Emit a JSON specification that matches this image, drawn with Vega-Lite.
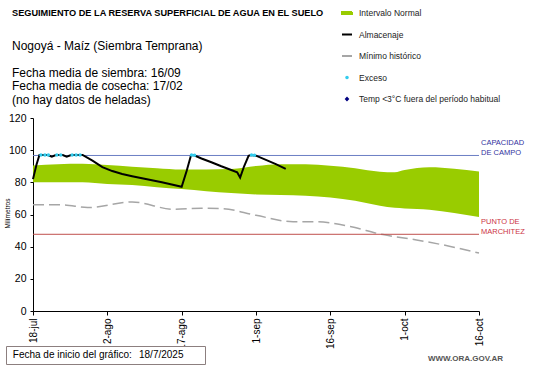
{
  "$schema": "https://vega.github.io/schema/vega-lite/v6.json",
  "width": 446,
  "height": 193,
  "autosize": {"type": "none"},
  "padding": {"left": 33, "top": 118, "right": 62, "bottom": 57},
  "background": "white",
  "config": {"view": {"stroke": null}, "font": "Liberation Sans"},
  "title": {
    "text": "SEGUIMIENTO DE LA RESERVA SUPERFICIAL DE AGUA EN EL SUELO",
    "subtitle": ["Nogoyá - Maíz (Siembra Temprana)", "\u200b", "Fecha media de siembra: 16/09", "Fecha media de cosecha: 17/02", "(no hay datos de heladas)"],
    "anchor": "start",
    "frame": "group",
    "dx": -21,
    "dy": 103.5,
    "offset": 0,
    "font": "Liberation Sans",
    "fontSize": 9.2,
    "fontWeight": "bold",
    "color": "#000000",
    "subtitleFont": "Liberation Sans",
    "subtitleFontSize": 12,
    "subtitleColor": "#000000",
    "subtitleLineHeight": 13.5,
    "subtitlePadding": 22.5
  },
  "datasets": {
    "band": [
      {"day": 0, "low": 80, "high": 90.5},
      {"day": 5, "low": 80, "high": 91.3},
      {"day": 10, "low": 80, "high": 91.5},
      {"day": 15, "low": 79, "high": 90.8},
      {"day": 20, "low": 78.3, "high": 89.7},
      {"day": 25, "low": 77, "high": 88.8},
      {"day": 30, "low": 75.8, "high": 88},
      {"day": 35, "low": 74.5, "high": 88},
      {"day": 40, "low": 73.3, "high": 88.3},
      {"day": 45, "low": 72.5, "high": 90.2},
      {"day": 50, "low": 72.2, "high": 91.3},
      {"day": 55, "low": 71.7, "high": 91.3},
      {"day": 60, "low": 70.5, "high": 90.3},
      {"day": 65, "low": 68.5, "high": 88.8},
      {"day": 70, "low": 65.5, "high": 86.6},
      {"day": 73, "low": 64.2, "high": 86.2},
      {"day": 75, "low": 63.8, "high": 87.6},
      {"day": 80, "low": 63, "high": 89.4},
      {"day": 85, "low": 61, "high": 88.5},
      {"day": 90, "low": 58.5, "high": 86.7}
    ],
    "minimo": [
      {"day": 0, "mm": 66},
      {"day": 6, "mm": 66},
      {"day": 11, "mm": 64.3},
      {"day": 20, "mm": 67.8},
      {"day": 28.5, "mm": 63.2},
      {"day": 34, "mm": 63.9},
      {"day": 38, "mm": 63.7},
      {"day": 45, "mm": 59.5},
      {"day": 52.5, "mm": 55.5},
      {"day": 57, "mm": 55.5},
      {"day": 60, "mm": 54.8},
      {"day": 64, "mm": 52.5},
      {"day": 70.6, "mm": 47.5},
      {"day": 77.4, "mm": 44.2},
      {"day": 84, "mm": 40.3},
      {"day": 90, "mm": 36}
    ],
    "alm": [
      {"day": 0, "mm": 82},
      {"day": 0.7, "mm": 91},
      {"day": 1.3, "mm": 97},
      {"day": 3, "mm": 97},
      {"day": 3.8, "mm": 96},
      {"day": 4.6, "mm": 97},
      {"day": 6, "mm": 97},
      {"day": 6.8, "mm": 96},
      {"day": 7.7, "mm": 97},
      {"day": 10, "mm": 97},
      {"day": 12, "mm": 93.5},
      {"day": 14, "mm": 89.5},
      {"day": 16, "mm": 87},
      {"day": 18, "mm": 85.2},
      {"day": 20, "mm": 83.8},
      {"day": 22, "mm": 82.5},
      {"day": 24, "mm": 81.3},
      {"day": 26, "mm": 80},
      {"day": 28, "mm": 78.7},
      {"day": 30, "mm": 77.2},
      {"day": 31, "mm": 87},
      {"day": 31.9, "mm": 97},
      {"day": 32.5, "mm": 96.8},
      {"day": 34, "mm": 94.8},
      {"day": 36, "mm": 92.5},
      {"day": 38, "mm": 90},
      {"day": 40, "mm": 87.7},
      {"day": 41.2, "mm": 86.3},
      {"day": 41.8, "mm": 83},
      {"day": 42.6, "mm": 90},
      {"day": 43.5, "mm": 96.5},
      {"day": 44, "mm": 97},
      {"day": 45, "mm": 96.6},
      {"day": 47, "mm": 94},
      {"day": 49, "mm": 91.3},
      {"day": 51, "mm": 88.4}
    ],
    "exceso": [
      {"day": 1.6, "mm": 97},
      {"day": 2.4, "mm": 97},
      {"day": 3.1, "mm": 97},
      {"day": 4.8, "mm": 97},
      {"day": 5.6, "mm": 97},
      {"day": 7.9, "mm": 97},
      {"day": 8.7, "mm": 97},
      {"day": 9.5, "mm": 97},
      {"day": 32, "mm": 97},
      {"day": 32.6, "mm": 96.8},
      {"day": 44.1, "mm": 97},
      {"day": 44.7, "mm": 96.8}
    ],
    "refs": [
      {"ref": "cc", "day": 90, "mm": 96.7, "label": ["CAPACIDAD", "DE  CAMPO"]},
      {"ref": "pm", "day": 90, "mm": 47.7, "label": ["PUNTO  DE", "MARCHITEZ"]}
    ]
  },
  "layer": [
    {
      "data": {"name": "band"},
      "mark": {"type": "area", "interpolate": "monotone"},
      "encoding": {
        "x": {
          "field": "day", "type": "quantitative", "title": "WWW.ORA.GOV.AR",
          "scale": {"domain": [0, 90], "nice": false, "zero": false},
          "axis": {
            "values": [0, 15, 30, 45, 60, 75, 90],
            "labelExpr": "['18-jul','2-ago','17-ago','1-sep','16-sep','1-oct','16-oct'][round(datum.value/15)]",
            "labelAngle": 270,
            "labelFont": "Liberation Sans",
            "labelFontSize": 10,
            "labelColor": "#000000",
            "labelPadding": 3,
            "labelOverlap": false,
            "labelFlush": false,
            "grid": false,
            "domainColor": "#000000",
            "tickColor": "#000000",
            "tickSize": 4,
            "titleFont": "Liberation Sans",
            "titleFontSize": 8,
            "titleFontWeight": "bold",
            "titleColor": "#555555",
            "titleX": 432,
            "titleY": 47,
            "titleAlign": "center",
            "titleBaseline": "middle",
            "titleAnchor": null
          }
        },
        "y": {
          "field": "low", "type": "quantitative", "title": "Milímetros",
          "scale": {"domain": [0, 120], "nice": false},
          "axis": {
            "values": [0, 20, 40, 60, 80, 100, 120],
            "tickCount": 7,
            "labelFont": "Liberation Sans",
            "labelFontSize": 10.5,
            "labelColor": "#000000",
            "labelPadding": 4,
            "labelOverlap": false,
            "labelFlush": false,
            "grid": false,
            "domainColor": "#000000",
            "tickColor": "#000000",
            "tickSize": 3,
            "titleFont": "Liberation Sans",
            "titleFontSize": 6.5,
            "titleFontWeight": "normal",
            "titleColor": "#000000",
            "titleX": -26,
            "titleY": 95,
            "titleAlign": "center",
            "titleBaseline": "middle",
            "titleAngle": 270
          }
        },
        "y2": {"field": "high"},
        "color": {
          "datum": "Intervalo Normal",
          "scale": {
            "domain": ["Intervalo Normal", "Almacenaje", "Mínimo histórico", "Exceso", "Temp <3°C fuera del período habitual"],
            "range": ["#99CC00", "#000000", "#A6A6A6", "#33CCEE", "#000080"]
          },
          "legend": {
            "orient": "none",
            "legendX": 303,
            "legendY": -116,
            "title": null,
            "padding": 0,
            "symbolSize": 400,
            "symbolStrokeWidth": 2,
            "rowPadding": 5.5,
            "labelOffset": 1,
            "labelFont": "Liberation Sans",
            "labelFontSize": 8.5,
            "labelColor": "#222222",
            "labelLimit": 300,
            "encode": {
              "symbols": {
                "update": {
                  "shape": {"signal": "datum.value === 'Intervalo Normal' ? 'M-0.5,-0.09H0.5V0.09H-0.5Z' : (datum.value === 'Almacenaje' || datum.value === 'Mínimo histórico') ? 'M-0.5,0H0.5' : (datum.value === 'Exceso' ? 'M-0.075,0L-0.053,-0.053L0,-0.075L0.053,-0.053L0.075,0L0.053,0.053L0,0.075L-0.053,0.053Z' : 'M0,-0.11L0.1,0L0,0.11L-0.1,0Z')"},
                  "fill": {"signal": "datum.value === 'Intervalo Normal' ? '#99CC00' : datum.value === 'Exceso' ? '#33CCEE' : (datum.value === 'Almacenaje' || datum.value === 'Mínimo histórico') ? 'transparent' : '#000080'"},
                  "stroke": {"signal": "datum.value === 'Almacenaje' ? '#000000' : datum.value === 'Mínimo histórico' ? '#A6A6A6' : 'transparent'"},
                  "strokeDash": {"signal": "datum.value === 'Mínimo histórico' ? [11, 3] : [1, 0]"},
                  "opacity": {"value": 1}
                }
              }
            }
          }
        }
      }
    },
    {
      "data": {"name": "minimo"},
      "mark": {"type": "line", "interpolate": "monotone", "strokeDash": [11, 5], "strokeWidth": 1.5},
      "encoding": {
        "x": {"field": "day", "type": "quantitative", "title": "WWW.ORA.GOV.AR"},
        "y": {"field": "mm", "type": "quantitative", "title": "Milímetros"},
        "color": {"datum": "Mínimo histórico"}
      }
    },
    {
      "data": {"name": "refs"},
      "transform": [{"filter": "datum.ref === 'cc'"}],
      "mark": {"type": "rule", "color": "#6B7FC4", "strokeWidth": 1},
      "encoding": {
        "y": {"field": "mm", "type": "quantitative", "title": "Milímetros"}
      }
    },
    {
      "data": {"name": "refs"},
      "transform": [{"filter": "datum.ref === 'pm'"}],
      "mark": {"type": "rule", "color": "#C0504D", "strokeWidth": 1},
      "encoding": {
        "y": {"field": "mm", "type": "quantitative", "title": "Milímetros"}
      }
    },
    {
      "data": {"name": "refs"},
      "transform": [{"filter": "datum.ref === 'cc'"}],
      "mark": {"type": "text", "align": "left", "baseline": "bottom", "dx": 2, "dy": -8, "fontSize": 7.5, "lineHeight": 10, "color": "#3333A0"},
      "encoding": {
        "x": {"field": "day", "type": "quantitative", "title": "WWW.ORA.GOV.AR"},
        "y": {"field": "mm", "type": "quantitative", "title": "Milímetros"},
        "text": {"field": "label"}
      }
    },
    {
      "data": {"name": "refs"},
      "transform": [{"filter": "datum.ref === 'pm'"}],
      "mark": {"type": "text", "align": "left", "baseline": "bottom", "dx": 2, "dy": -8, "fontSize": 7.5, "lineHeight": 10, "color": "#CC3344"},
      "encoding": {
        "x": {"field": "day", "type": "quantitative", "title": "WWW.ORA.GOV.AR"},
        "y": {"field": "mm", "type": "quantitative", "title": "Milímetros"},
        "text": {"field": "label"}
      }
    },
    {
      "data": {"name": "alm"},
      "mark": {"type": "line", "strokeWidth": 2},
      "encoding": {
        "x": {"field": "day", "type": "quantitative", "title": "WWW.ORA.GOV.AR"},
        "y": {"field": "mm", "type": "quantitative", "title": "Milímetros"},
        "color": {"datum": "Almacenaje"}
      }
    },
    {
      "data": {"name": "exceso"},
      "mark": {"type": "point", "filled": true, "size": 12, "opacity": 1},
      "encoding": {
        "x": {"field": "day", "type": "quantitative", "title": "WWW.ORA.GOV.AR"},
        "y": {"field": "mm", "type": "quantitative", "title": "Milímetros"},
        "color": {"datum": "Exceso"},
        "shape": {
          "datum": "18/7/2025",
          "scale": {"range": ["circle"]},
          "legend": {
            "orient": "none",
            "legendX": -27,
            "legendY": 228,
            "title": "\u200b\u00a0Fecha de inicio del gráfico:",
            "titleOrient": "left",
            "titleFont": "Liberation Sans",
            "titleFontSize": 10,
            "titleFontWeight": "normal",
            "titleColor": "#000000",
            "titlePadding": 0,
            "titleBaseline": "middle",
            "labelFont": "Liberation Sans",
            "labelFontSize": 10,
            "labelColor": "#000000",
            "labelExpr": "datum.label + '\u00a0\u00a0\u00a0\u00a0\u00a0\u00a0\u200b'",
            "symbolSize": 0,
            "symbolStrokeWidth": 0,
            "symbolOpacity": 0,
            "labelOffset": -3,
            "strokeColor": "#8C7F7F",
            "fillColor": "#FFFFFF",
            "padding": 4,
            "encode": {
              "legend": {
                "update": {
                  "stroke": {"value": "#8C7F7F"},
                  "strokeWidth": {"value": 1},
                  "fill": {"value": "#FFFFFF"}
                }
              }
            }
          }
        }
      }
    }
  ]
}
